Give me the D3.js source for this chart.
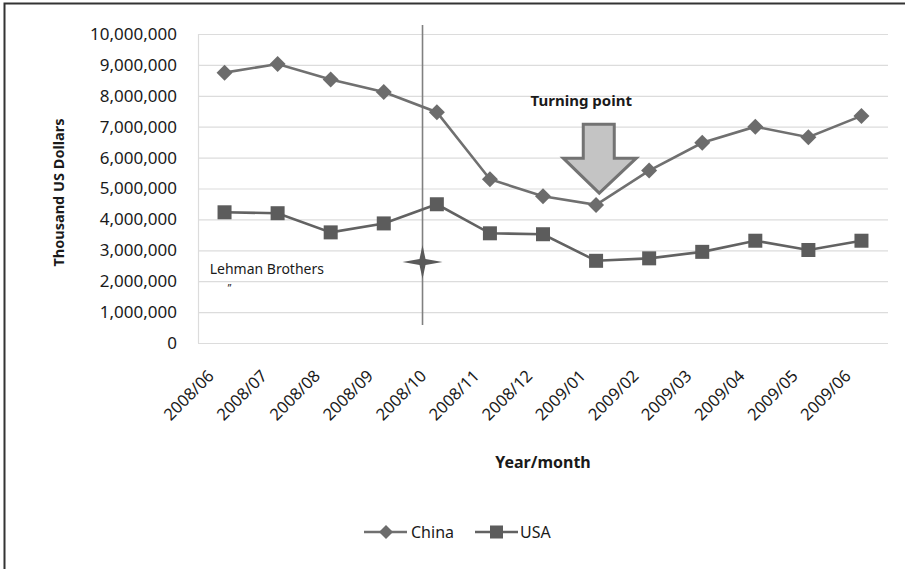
<!DOCTYPE html>
<html>
<head>
<meta charset="utf-8">
<script src="https://cdn.jsdelivr.net/npm/d3@7"></script>
<style>
  body { margin: 0; background: #fff; }
  text { font-family: "Noto Sans", sans-serif; fill: #1a1a1a; }
</style>
</head>
<body>
<div id="container"></div>
<script>
const WIDTH = 905;
const HEIGHT = 569;

// plot box
const LEFT = 198, RIGHT = 888, TOP = 34, BOTTOM = 343;

const months = ["2008/06", "2008/07", "2008/08", "2008/09", "2008/10", "2008/11", "2008/12",
    "2009/01", "2009/02", "2009/03", "2009/04", "2009/05", "2009/06"];
const china = [8750000, 9030000, 8530000, 8120000, 7470000, 5300000, 4750000,
    4470000, 5580000, 6480000, 7000000, 6660000, 7350000];
const usa = [4230000, 4200000, 3580000, 3870000, 4490000, 3550000, 3520000,
    2660000, 2740000, 2950000, 3310000, 3010000, 3310000];
const yTicks = [0, 1000000, 2000000, 3000000, 4000000, 5000000, 6000000,
    7000000, 8000000, 9000000, 10000000];

// annotations, in category index / data units
const lehman = {pos: 3.73, top: 10290000, bottom: 580000, star: 2620000};
const turning = {pos: 7.06, tip: 4850000};

var translate = function (x, y) {
    return "translate(" + x + "," + y + ")";
};

var createChart = function () {
    var svg = d3.select("#container")
        .append("svg")
        .attr("width", WIDTH)
        .attr("height", HEIGHT);

    svg.append("rect").attr("width", WIDTH).attr("height", HEIGHT).attr("fill", "#fff");

    // outer frame (cut at right and bottom in the source)
    svg.append("path")
        .attr("d", "M4.5," + HEIGHT + "V3.5H" + WIDTH)
        .attr("stroke", "#333").attr("stroke-width", 2).attr("fill", "none");

    var xScale = d3.scalePoint().domain(months).range([LEFT, RIGHT]).padding(0.5);
    var step = xScale.step();
    var xPos = function (i) { return xScale(months[0]) + i * step; };
    var yScale = d3.scaleLinear().domain([0, 10000000]).range([BOTTOM, TOP]);

    // gridlines
    svg.append("g").selectAll("line").data(yTicks).enter().append("line")
        .attr("x1", LEFT).attr("x2", RIGHT)
        .attr("y1", d => yScale(d) + 0.5).attr("y2", d => yScale(d) + 0.5)
        .attr("stroke", "#dcdcdc").attr("stroke-width", 1.2);
    svg.append("line")
        .attr("x1", LEFT + 0.5).attr("x2", LEFT + 0.5)
        .attr("y1", TOP).attr("y2", BOTTOM)
        .attr("stroke", "#dcdcdc").attr("stroke-width", 1.2);

    var yAxis = d3.axisLeft(yScale).tickValues(yTicks).tickFormat(d3.format(",")).tickSize(0).tickPadding(21);
    var gy = svg.append("g").attr("transform", translate(LEFT, 0)).call(yAxis);
    gy.select(".domain").remove();
    gy.selectAll("text").attr("font-size", 17).attr("font-family", "Noto Sans").attr("fill", "#1a1a1a");

    var xAxis = d3.axisBottom(xScale).tickSize(0).tickPadding(0);
    var gx = svg.append("g").attr("transform", translate(0, BOTTOM)).call(xAxis);
    gx.select(".domain").remove();
    gx.selectAll("text")
        .attr("font-size", 16.5).attr("font-family", "Noto Sans").attr("fill", "#1a1a1a")
        .attr("text-anchor", "end")
        .attr("dy", 0)
        .attr("transform", "translate(-10,34) rotate(-45)");

    // axis titles
    svg.append("text")
        .attr("transform", translate(64, (TOP + BOTTOM) / 2 + 4) + " rotate(-90)")
        .attr("text-anchor", "middle")
        .attr("font-size", 14.5).attr("font-weight", "bold")
        .text("Thousand US Dollars");
    svg.append("text")
        .attr("x", (LEFT + RIGHT) / 2).attr("y", 468)
        .attr("text-anchor", "middle")
        .attr("font-size", 16).attr("font-weight", "bold")
        .text("Year/month");

    // Lehman line and star
    var lx = xPos(lehman.pos);
    svg.append("line")
        .attr("x1", lx).attr("x2", lx)
        .attr("y1", yScale(lehman.top)).attr("y2", yScale(lehman.bottom))
        .attr("stroke", "#808080").attr("stroke-width", 1.6);

    var line = d3.line()
        .x(function (d, i) { return xScale(months[i]); })
        .y(function (d) { return yScale(d); });

    // China
    svg.append("path").attr("d", line(china))
        .attr("stroke", "#707070").attr("stroke-width", 2.6).attr("fill", "none");
    svg.append("g").selectAll("path").data(china).enter().append("path")
        .attr("d", "M0,-8L8,0L0,8L-8,0Z")
        .attr("transform", (d, i) => translate(xScale(months[i]), yScale(d)))
        .attr("fill", "#6c6c6c");

    // USA
    svg.append("path").attr("d", line(usa))
        .attr("stroke", "#626262").attr("stroke-width", 2.6).attr("fill", "none");
    svg.append("g").selectAll("rect").data(usa).enter().append("rect")
        .attr("x", (d, i) => xScale(months[i]) - 7)
        .attr("y", d => yScale(d) - 7)
        .attr("width", 14).attr("height", 14)
        .attr("fill", "#5c5c5c");

    // four-point star on the Lehman line
    var sy = yScale(lehman.star);
    svg.append("path")
        .attr("d", "M0,-17 L3,-3 L20,0 L3,3 L0,17 L-3,3 L-20,0 L-3,-3Z")
        .attr("transform", translate(lx, sy))
        .attr("fill", "#5a5a5a");

    svg.append("text")
        .attr("x", xPos(-0.28)).attr("y", sy + 12)
        .attr("font-size", 14).attr("fill", "#333")
        .text("Lehman Brothers");
    svg.append("text")
        .attr("x", xPos(0.06)).attr("y", sy + 30)
        .attr("font-size", 10).attr("fill", "#333")
        .text("\u201D");

    // turning point arrow
    var tx = xPos(turning.pos), ty = yScale(turning.tip);
    svg.append("path")
        .attr("d", "M0,0 L-36,-35 L-16,-35 L-16,-69 L15,-69 L15,-35 L37,-35 Z")
        .attr("transform", translate(tx, ty))
        .attr("fill", "#c4c4c4").attr("stroke", "#737373").attr("stroke-width", 3)
        .attr("stroke-linejoin", "miter");
    svg.append("text")
        .attr("x", tx - 18).attr("y", ty - 87)
        .attr("text-anchor", "middle")
        .attr("font-size", 15).attr("font-weight", "bold")
        .text("Turning point");

    // legend
    var legend = svg.append("g").attr("transform", translate(0, 532));
    legend.append("line").attr("x1", 364).attr("x2", 407)
        .attr("stroke", "#707070").attr("stroke-width", 2.6);
    legend.append("path").attr("d", "M0,-7L7,0L0,7L-7,0Z")
        .attr("transform", translate(386, 0)).attr("fill", "#6c6c6c");
    legend.append("text").attr("x", 411).attr("y", 6)
        .attr("font-size", 16).text("China");
    legend.append("line").attr("x1", 475).attr("x2", 518)
        .attr("stroke", "#626262").attr("stroke-width", 2.6);
    legend.append("rect").attr("x", 490).attr("y", -6.5)
        .attr("width", 13).attr("height", 13).attr("fill", "#5c5c5c");
    legend.append("text").attr("x", 520).attr("y", 6)
        .attr("font-size", 16).text("USA");
};

window.onload = createChart;
</script>
</body>
</html>
